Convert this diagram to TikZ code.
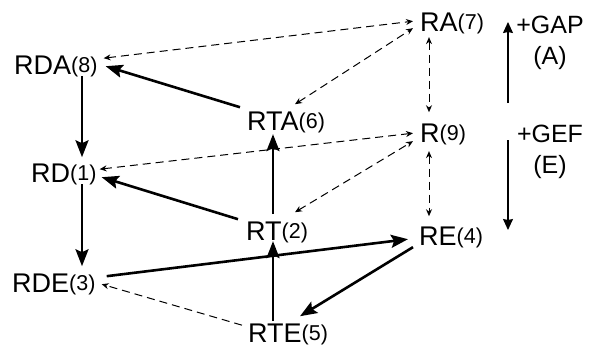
\documentclass[tikz,border=0pt]{standalone}
\usepackage{fontspec}
\setmainfont{Liberation Sans}
\usetikzlibrary{arrows.meta}
\newcommand\rlab[2]{{\fontsize{27}{30}\selectfont #1}\raisebox{1.5pt}{\fontsize{21.5}{24}\selectfont(#2)}}

\begin{document}
\begin{tikzpicture}[line join=round,x=1pt,y=-1pt,
	st/.style={anchor=base west,inner sep=0pt},
	fwd/.style={-{Stealth[length=17pt,width=13pt,inset=3pt]},line width=2.6pt},
	eq/.style={{Stealth[length=7pt,width=6pt]}-{Stealth[length=7pt,width=6pt]},line width=1pt,dash pattern=on 8pt off 5pt},
	one/.style={-{Stealth[length=7pt,width=6pt]},line width=1pt,dash pattern=on 8pt off 5pt},
	cyc/.style={-{Stealth[length=11pt,width=10pt,inset=1pt]},line width=1.1pt}]
	\useasboundingbox (0,0) rectangle (590,349);
	% states
	\node[st] (ra) at (420,31) {\rlab{RA}{7}};
	\node[st] (r) at (420,142) {\rlab{R}{9}};
	\node[st] (rta) at (247,130) {\rlab{RTA}{6}};
	\node[st] (rda) at (14,74) {\rlab{RDA}{8}};
	\node[st] (rd) at (31,182) {\rlab{RD}{1}};
	\node[st] (rt) at (246,240) {\rlab{RT}{2}};
	\node[st] (re) at (419,245) {\rlab{RE}{4}};
	\node[st] (rde) at (12,292) {\rlab{RDE}{3}};
	\node[st] (rte) at (248,342) {\rlab{RTE}{5}};
	% solid steps
	\draw[fwd] ([shift={(-7,-4)}]rta.north west)--([shift={(8,0)}]rda.east);
	\draw[fwd] ([shift={(68,-1)}]rda.south west)--([shift={(51,-6)}]rd.north west);
	\draw[fwd] ([shift={(27,-7)}]rt.north west)--([shift={(26,1)}]rta.south west);
	\draw[fwd] ([shift={(-8,-13)}]rt.west)--([shift={(5,3)}]rd.east);
	\draw[fwd] ([shift={(51,-1)}]rd.south west)--([shift={(70,-7)}]rde.north west);
	\draw[fwd] ([shift={(11,-8)}]rde.east)--([shift={(-11,2)}]re.west);
	\draw[fwd] ([shift={(25,-2)}]rte.north west)--([shift={(27,-2)}]rt.south west);
	\draw[fwd] ([shift={(-6,-1)}]re.south west)--([shift={(52,-7)}]rte.north west);
	% dashed equilibria
	\draw[eq] ([shift={(6,-8)}]rda.east)--([shift={(-7,-2)}]ra.west);
	\draw[eq] ([shift={(48,-7)}]rta.north west)--([shift={(-7,5)}]ra.west);
	\draw[eq] ([shift={(9,3)}]ra.south west)--([shift={(9,-11)}]r.north west);
	\draw[eq] ([shift={(3,-5)}]rd.east)--([shift={(-7,-1)}]r.west);
	\draw[eq] ([shift={(49,-9)}]rt.north west)--([shift={(-7,7)}]r.west);
	\draw[eq] ([shift={(9,6)}]r.south west)--([shift={(10,-10)}]re.north west);
	\draw[one] ([shift={(-6,-9)}]rte.west)--([shift={(6,0)}]rde.east);
	% GAP / GEF
	\coordinate (gap0) at (508,103);
	\coordinate (gap1) at (508,22);
	\coordinate (gef0) at (508,140);
	\coordinate (gef1) at (508,230);
	\draw[cyc] (gap0)--(gap1);
	\draw[cyc] (gef0)--(gef1);
	\node[align=center,font=\fontsize{25}{31}\selectfont,anchor=base] (gap) at (550,64) {+GAP\\(A)};
	\node[align=center,font=\fontsize{25}{31}\selectfont,anchor=base] (gef) at (550,173) {+GEF\\(E)};
\end{tikzpicture}
\end{document}
